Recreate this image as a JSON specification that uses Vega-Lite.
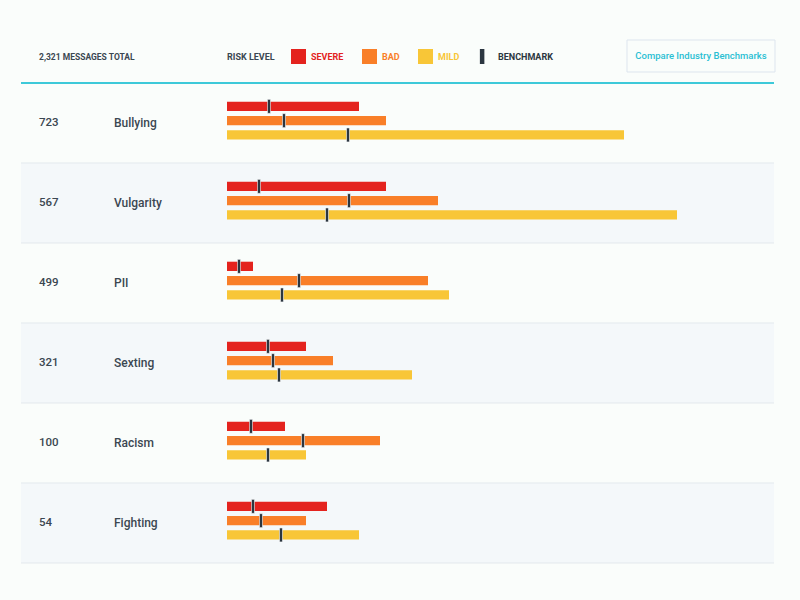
{
  "$schema": "https://vega.github.io/schema/vega-lite/v6.json",
  "width": 800,
  "height": 600,
  "padding": 0,
  "autosize": {"type": "fit", "contains": "padding"},
  "background": "#fafdfb",
  "datasets": {
    "rows": [
      {"category": "Bullying", "count": 723},
      {"category": "Vulgarity", "count": 567},
      {"category": "PII", "count": 499},
      {"category": "Sexting", "count": 321},
      {"category": "Racism", "count": 100},
      {"category": "Fighting", "count": 54}
    ],
    "bars": [
      {"category": "Bullying", "level": "SEVERE", "value": 132, "benchmark": 42},
      {"category": "Bullying", "level": "BAD", "value": 159, "benchmark": 57},
      {"category": "Bullying", "level": "MILD", "value": 397, "benchmark": 121},
      {"category": "Vulgarity", "level": "SEVERE", "value": 159, "benchmark": 32},
      {"category": "Vulgarity", "level": "BAD", "value": 211, "benchmark": 122},
      {"category": "Vulgarity", "level": "MILD", "value": 450, "benchmark": 100},
      {"category": "PII", "level": "SEVERE", "value": 26, "benchmark": 12},
      {"category": "PII", "level": "BAD", "value": 201, "benchmark": 72},
      {"category": "PII", "level": "MILD", "value": 222, "benchmark": 55},
      {"category": "Sexting", "level": "SEVERE", "value": 79, "benchmark": 41},
      {"category": "Sexting", "level": "BAD", "value": 106, "benchmark": 46},
      {"category": "Sexting", "level": "MILD", "value": 185, "benchmark": 52},
      {"category": "Racism", "level": "SEVERE", "value": 58, "benchmark": 24},
      {"category": "Racism", "level": "BAD", "value": 153, "benchmark": 76},
      {"category": "Racism", "level": "MILD", "value": 79, "benchmark": 41},
      {"category": "Fighting", "level": "SEVERE", "value": 100, "benchmark": 26},
      {"category": "Fighting", "level": "BAD", "value": 79, "benchmark": 34},
      {"category": "Fighting", "level": "MILD", "value": 132, "benchmark": 54}
    ],
    "header": [
      {"label": "2,321 MESSAGES TOTAL", "button": "Compare Industry Benchmarks"}
    ]
  },
  "layer": [
    {
      "data": {"name": "rows"},
      "transform": [{"filter": {"field": "category", "oneOf": ["Vulgarity", "Sexting", "Fighting"]}}],
      "mark": {"type": "rect", "fill": "#f4f8fa"},
      "encoding": {
        "x": {"datum": -206, "type": "quantitative", "axis": null, "scale": {"domain": [-227, 573], "nice": false, "zero": false}},
        "x2": {"datum": 547},
        "y": {"field": "category", "type": "nominal", "axis": null, "scale": {"domain": ["header", "Bullying", "Vulgarity", "PII", "Sexting", "Racism", "Fighting"], "paddingInner": 0, "paddingOuter": 0.25, "align": 0.075}}
      }
    },
    {
      "data": {"name": "rows"},
      "mark": {"type": "rule", "stroke": "#e3e9ed", "strokeWidth": 1},
      "encoding": {
        "x": {"datum": -206, "type": "quantitative", "axis": null},
        "x2": {"datum": 547},
        "y": {"field": "category", "type": "nominal", "axis": null, "bandPosition": 1}
      }
    },
    {
      "data": {"name": "header"},
      "mark": {"type": "rule", "stroke": "#3dc9d9", "strokeWidth": 2},
      "encoding": {
        "x": {"datum": -206, "type": "quantitative", "axis": null},
        "x2": {"datum": 547},
        "y": {"datum": "header", "type": "nominal", "axis": null, "bandPosition": 1}
      }
    },
    {
      "data": {"name": "header"},
      "mark": {"type": "text", "align": "left", "baseline": "middle", "dy": 14, "font": "Roboto", "fontSize": 8.5, "fontWeight": "bold", "fill": "#3b4751"},
      "encoding": {
        "x": {"datum": -188, "type": "quantitative", "axis": null},
        "y": {"datum": "header", "type": "nominal", "axis": null},
        "text": {"field": "label"}
      }
    },
    {
      "data": {"name": "header"},
      "mark": {"type": "bar", "height": 32, "yOffset": 13, "fill": "#fafdfb", "stroke": "#dde5ee", "strokeWidth": 1},
      "encoding": {
        "x": {"datum": 400, "type": "quantitative", "axis": null},
        "x2": {"datum": 548},
        "y": {"datum": "header", "type": "nominal", "axis": null}
      }
    },
    {
      "data": {"name": "header"},
      "mark": {"type": "text", "align": "center", "baseline": "middle", "dy": 13, "font": "Roboto", "fontSize": 9.5, "fontWeight": 500, "fill": "#2bbfd3"},
      "encoding": {
        "x": {"datum": 474, "type": "quantitative", "axis": null},
        "y": {"datum": "header", "type": "nominal", "axis": null},
        "text": {"field": "button"}
      }
    },
    {
      "data": {"name": "rows"},
      "mark": {"type": "text", "align": "left", "baseline": "middle", "font": "Roboto", "fontSize": 11.5, "fontWeight": 500, "fill": "#3b4751"},
      "encoding": {
        "x": {"datum": -188, "type": "quantitative", "axis": null},
        "y": {"field": "category", "type": "nominal", "axis": null},
        "text": {"field": "count"}
      }
    },
    {
      "data": {"name": "rows"},
      "mark": {"type": "text", "align": "left", "baseline": "middle", "font": "Roboto", "fontSize": 12, "fontWeight": 500, "fill": "#3b4751"},
      "encoding": {
        "x": {"datum": -113, "type": "quantitative", "axis": null},
        "y": {"field": "category", "type": "nominal", "axis": null},
        "text": {"field": "category"}
      }
    },
    {
      "data": {"name": "bars"},
      "mark": {"type": "bar", "cornerRadius": 0},
      "encoding": {
        "x": {"field": "value", "type": "quantitative", "axis": null},
        "x2": {"datum": 0},
        "y": {"field": "category", "type": "nominal", "axis": null},
        "yOffset": {"field": "level", "type": "nominal", "scale": {"domain": ["pad-top", "SEVERE", "BAD", "MILD", "pad-bottom"], "paddingInner": 0.35, "paddingOuter": 0.472, "align": 0.326}},
        "color": {
          "field": "level",
          "type": "nominal",
          "scale": {"domain": ["SEVERE", "BAD", "MILD", "BENCHMARK"], "range": ["#e4231e", "#f97f28", "#f8c637", "#2b3640"]},
          "legend": {
            "title": "RISK LEVEL",
            "orient": "none",
            "legendX": 227,
            "legendY": 49,
            "direction": "horizontal",
            "titleOrient": "left",
            "titleFont": "Roboto",
            "titleFontSize": 9,
            "titleFontWeight": "bold",
            "titleColor": "#3b4751",
            "titlePadding": 16,
            "titleBaseline": "middle",
            "labelFont": "Roboto",
            "labelFontSize": 9,
            "labelFontWeight": "bold",
            "labelOffset": 5,
            "columnPadding": 18,
            "symbolType": "square",
            "symbolSize": 225,
            "symbolStrokeWidth": 0,
            "padding": 0,
            "encode": {
              "symbols": {"update": {
                "shape": {"signal": "datum.value === 'BENCHMARK' ? 'M-0.75,-1H-0.15V1H-0.75Z' : 'square'"},
                "fill": {"signal": "scale('color', datum.value)"},
                "fillOpacity": {"value": 1},
                "strokeWidth": {"value": 0}
              }},
              "labels": {"update": {"fill": {"signal": "scale('color', datum.value)"}}}
            }
          }
        }
      }
    },
    {
      "data": {"name": "bars"},
      "mark": {"type": "tick", "thickness": 3, "size": 14, "stroke": "#ffffff", "strokeWidth": 0.8, "strokeOpacity": 0.7, "opacity": 1},
      "encoding": {
        "x": {"field": "benchmark", "type": "quantitative", "axis": null},
        "y": {"field": "category", "type": "nominal", "axis": null},
        "yOffset": {"field": "level", "type": "nominal"},
        "color": {"datum": "BENCHMARK", "type": "nominal"}
      }
    }
  ],
  "config": {
    "view": {"stroke": null},
    "axis": {"disable": true}
  }
}
